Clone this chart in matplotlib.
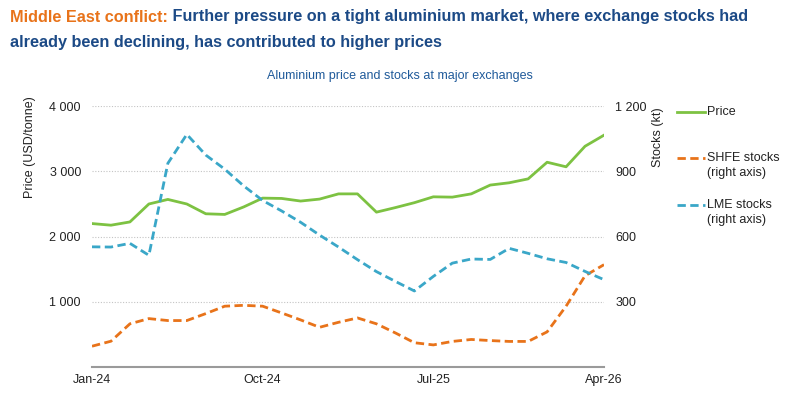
import matplotlib
matplotlib.use("Agg")
import matplotlib.pyplot as plt
from matplotlib.lines import Line2D

plt.rcParams['font.family'] = ['Liberation Sans', 'DejaVu Sans']

# monthly, Jan-24 .. Apr-26
months = list(range(28))
tick_pos = [0, 9, 18, 27]
tick_labels = ["Jan-24", "Oct-24", "Jul-25", "Apr-26"]

price = [2200, 2175, 2225, 2500, 2570, 2500, 2350, 2340, 2455, 2590,
         2585, 2545, 2575, 2655, 2655, 2375, 2445, 2520, 2610, 2605,
         2655, 2790, 2825, 2885, 3140, 3070, 3385, 3555]
shfe = [96, 119, 199, 223, 214, 214, 246, 280, 284, 280,
        249, 217, 183, 206, 226, 199, 157, 112, 102, 118,
        127, 122, 118, 118, 162, 280, 420, 471]
lme = [553, 552, 569, 514, 937, 1070, 975, 910, 833, 766,
       718, 666, 607, 552, 494, 439, 394, 350, 417, 478,
       497, 495, 546, 523, 498, 481, 440, 402]

legend_names = [("Price", None), ("SHFE stocks", "(right axis)"), ("LME stocks", "(right axis)")]

GREEN = "#7dc242"
ORANGE = "#e8731a"
BLUE = "#3aa7c8"
NAVY = "#1c4a86"
DASH = (3, 1.6)

W, H = 800, 396
fig = plt.figure(figsize=(8, 3.96), dpi=100)
ax = fig.add_axes([0.115, 0.073, 0.64, 0.659])
ax2 = ax.twinx()

ax.plot(months, price, color=GREEN, lw=2.0, zorder=3)
ax2.plot(months, shfe, color=ORANGE, lw=2.0, dashes=DASH)
ax2.plot(months, lme, color=BLUE, lw=2.0, dashes=DASH)

ax.set_xlim(0, 27)
ax.set_ylim(0, 4000)
ax2.set_ylim(0, 1200)
ax.set_yticks([1000, 2000, 3000, 4000])
ax.set_yticklabels(["1 000", "2 000", "3 000", "4 000"])
ax2.set_yticks([300, 600, 900, 1200])
ax2.set_yticklabels(["300", "600", "900", "1 200"])
ax.set_xticks(tick_pos)
ax.set_xticklabels(tick_labels)

ax.grid(axis="y", color="#c4c4c4", linestyle=(0, (1, 1.5)), lw=0.8)
for a in (ax, ax2):
    for s in ("top", "left", "right"):
        a.spines[s].set_visible(False)
    a.tick_params(length=0, labelsize=9, colors="#222222")
ax2.spines["bottom"].set_visible(False)
ax.spines["bottom"].set_color("#9a9a9a")
ax.spines["bottom"].set_linewidth(1.5)
ax.tick_params(axis="y", pad=8)
ax2.tick_params(axis="y", pad=8)
ax.tick_params(axis="x", pad=5)

fig.text(0.038, 1 - 96 / H, "Price (USD/tonne)", rotation=90, va="top", ha="center",
         fontsize=9, color="#222222")
fig.text(0.822, 1 - 107 / H, "Stocks (kt)", rotation=90, va="top", ha="center",
         fontsize=9, color="#222222")

fig.text(0.5, 1 - 76 / H, "Aluminium price and stocks at major exchanges", ha="center",
         va="center", fontsize=9, color="#1f5a9a")

# title in two colours
TS = 11.7
t1 = fig.text(0.0125, 1 - 17 / H, "Middle East conflict:", color=ORANGE, fontsize=TS,
              fontweight="bold", va="center")
fig.canvas.draw()
bb = t1.get_window_extent()
x1 = bb.x1 / fig.bbox.width
fig.text(x1, 1 - 17 / H, " Further pressure on a tight aluminium market, where exchange stocks had",
         color=NAVY, fontsize=TS, fontweight="bold", va="center")
fig.text(0.0125, 1 - 42 / H, "already been declining, has contributed to higher prices",
         color=NAVY, fontsize=TS, fontweight="bold", va="center")

# legend, drawn by hand so the handle sits on the first text line
leg_styles = [dict(color=GREEN), dict(color=ORANGE, dashes=DASH), dict(color=BLUE, dashes=DASH)]
leg_y = [112, 158, 205]
for (l1, l2), st, yy in zip(legend_names, leg_styles, leg_y):
    fig.add_artist(Line2D([677 / W, 705 / W], [1 - yy / H, 1 - yy / H], lw=2.0,
                          transform=fig.transFigure, **st))
    fig.text(707 / W, 1 - yy / H, l1, fontsize=9, va="center", color="#222222")
    if l2:
        fig.text(707 / W, 1 - (yy + 15) / H, l2, fontsize=9, va="center", color="#222222")

fig.savefig("out.png", dpi=100)
